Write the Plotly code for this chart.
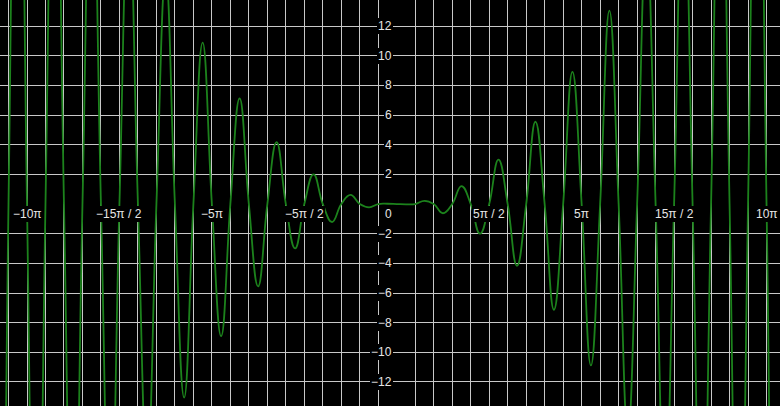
import math
import plotly.graph_objects as go

# Curve samples, at quarter-pi steps (x = n * pi / 4):
# even n are the zero crossings, odd n are the peaks / troughs (values beyond
# +-13.7 are clipped in the picture and estimated from the growing envelope).
n_quarter_pi = [-44, -43, -42, -41, -40, -39, -38, -37, -36, -35, -34, -33, -32, -31,
                -30, -29, -28, -27, -26, -25, -24, -23, -22, -21, -20, -19, -18, -17,
                -16, -15, -14, -13, -12, -11, -10, -9, -8, -7, -6, -5, -4, -3, -2, -1,
                0, 1, 2, 3, 4, 5, 6, 7, 8, 9, 10, 11, 12, 13, 14, 15, 16, 17, 18, 19,
                20, 21, 22, 23, 24, 25, 26, 27, 28, 29, 30, 31, 32, 33, 34, 35, 36, 37,
                38, 39, 40, 41, 42]
y_values = [0, -45.62, 0, 41.48, 0, -37.53, 0, 33.78, 0, -30.23, 0, 26.87, 0, -23.71,
            0, 20.75, 0, -17.99, 0, 15.42, 0, -13.05, 0, 10.88, 0, -8.91, 0, 7.13,
            0, -5.55, 0, 4.17, 0, -2.99, 0, 2.00, 0, -1.21, 0, 0.62, 0, -0.22, 0, 0.02,
            0, -0.02, 0, 0.22, 0, -0.62, 0, 1.21, 0, -2.00, 0, 2.99, 0, -4.17, 0, 5.55, 0, -7.13, 0, 8.91,
            0, -10.88, 0, 13.05, 0, -15.42, 0, 17.99, 0, -20.75, 0, 23.71, 0, -26.87, 0, 30.23, 0, -33.78,
            0, 37.53, 0, -41.48, 0]

# Axis labels
x_tick_multiples = [-10, -7.5, -5, -2.5, 2.5, 5, 7.5, 10]  # multiples of pi
x_tick_labels = ["−10π", "−15π / 2", "−5π", "−5π / 2", "5π / 2", "5π", "15π / 2", "10π"]
y_tick_values = [12, 10, 8, 6, 4, 2, -2, -4, -6, -8, -10, -12]
y_tick_labels = ["12", "10", "8", "6", "4", "2", "−2", "−4", "−6", "−8", "−10", "−12"]
origin_label = "0"

x_vals = [n * math.pi / 4 for n in n_quarter_pi]

X_RANGE = [-33.71, 32.56]
Y_RANGE = [-13.62, 13.76]
GRID = "#c8c8c8"

fig = go.Figure()
fig.add_trace(go.Scatter(
    x=x_vals, y=y_values, mode="lines",
    line=dict(color="#1c821c", width=1.8, shape="spline", smoothing=1.3),
    hoverinfo="skip", showlegend=False,
))

x_grid = [k * math.pi / 2 for k in range(-22, 22) if k != 0]
y_grid = [v for v in range(-14, 15, 2) if v != 0]

label_font = dict(family="Liberation Sans, Arial, sans-serif", size=12, color="#e6e6e6")
annotations = []
for m, t in zip(x_tick_multiples, x_tick_labels):
    annotations.append(dict(x=m * math.pi, y=0, xref="x", yref="y", text=t, showarrow=False,
                            xanchor="center", yanchor="middle", yshift=-10,
                            bgcolor="black", borderpad=1, borderwidth=0, font=label_font))
for v, t in zip(y_tick_values, y_tick_labels):
    annotations.append(dict(x=0, y=v, xref="x", yref="y", text=t, showarrow=False,
                            xanchor="right", yanchor="middle", xshift=-4,
                            bgcolor="black", borderpad=1, borderwidth=0, font=label_font))
annotations.append(dict(x=0, y=0, xref="x", yref="y", text=origin_label, showarrow=False,
                        xanchor="right", yanchor="middle", xshift=-4, yshift=-10,
                        bgcolor="black", borderpad=1, borderwidth=0, font=label_font))

fig.update_layout(
    width=780, height=406,
    margin=dict(l=0, r=0, t=0, b=0),
    paper_bgcolor="black", plot_bgcolor="black",
    xaxis=dict(range=X_RANGE, tickmode="array", tickvals=x_grid, showticklabels=False,
               showgrid=True, gridcolor=GRID, gridwidth=1, zeroline=False, showline=False,
               ticks=""),
    yaxis=dict(range=Y_RANGE, tickmode="array", tickvals=y_grid, showticklabels=False,
               showgrid=True, gridcolor=GRID, gridwidth=1, zeroline=False, showline=False,
               ticks=""),
    annotations=annotations,
    showlegend=False,
)

fig.write_html(
    "out.html",
    config={"displayModeBar": False, "staticPlot": True},
    post_script="document.body.style.margin='0';document.body.style.overflow='hidden';",
)
